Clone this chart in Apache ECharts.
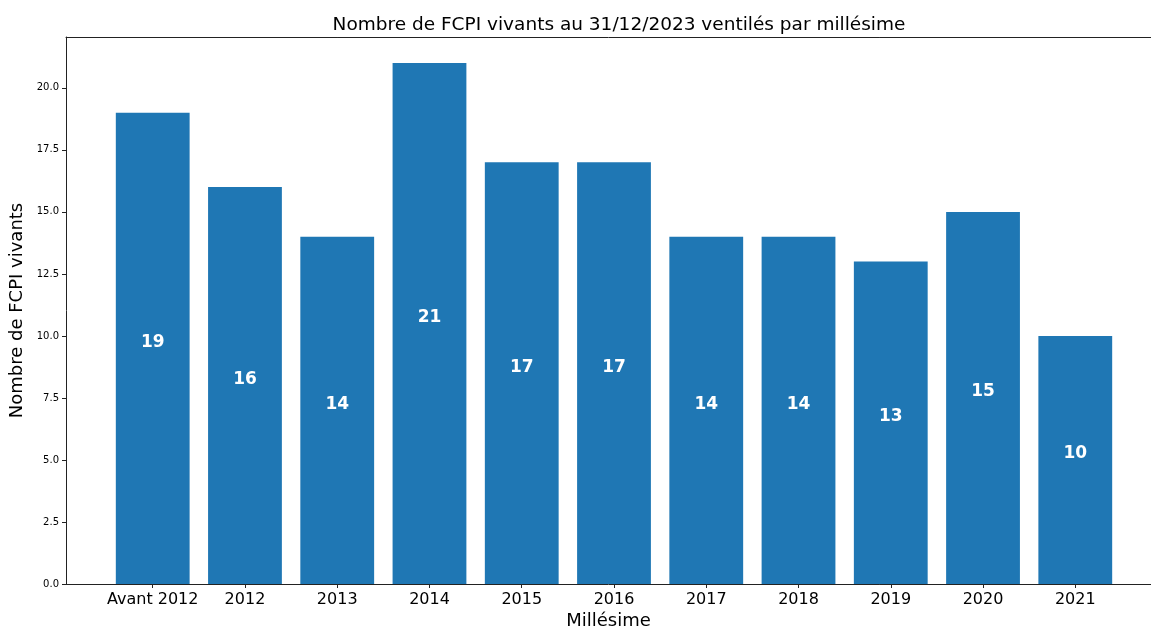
<!DOCTYPE html>
<html>
<head>
<meta charset="utf-8">
<script src="https://cdn.jsdelivr.net/npm/echarts@6/dist/echarts.min.js"></script>
<style>
  html, body { margin: 0; padding: 0; background: #fff; }
  #chart { width: 1151px; height: 628px; }
</style>
</head>
<body>
<div id="chart"></div>
<script>
    // données
    var millesimes = ['Avant 2012', '2012', '2013', '2014', '2015', '2016', '2017', '2018', '2019', '2020', '2021'];
    var nbFcpi = [19, 16, 14, 21, 17, 17, 14, 14, 13, 15, 10];
    var yTicks = [0, 2.5, 5, 7.5, 10, 12.5, 15, 17.5, 20];
    var yMax = 22.05;

    var chart = echarts.init(document.getElementById('chart'));

    // repère façon matplotlib : xlim = [-0.94, 10.94], axe complet de 66 à 1162 px
    var axLeft = 66, axWidth = 1096, xLo = -0.94, xHi = 10.94;
    var band = axWidth / (xHi - xLo);
    var barsLeft = axLeft + (-0.5 - xLo) * band;
    var font = 'DejaVu Sans';

    var option = {
        backgroundColor: '#fff',
        title: {
            text: 'Nombre de FCPI vivants au 31/12/2023 ventilés par millésime',
            left: axLeft + axWidth / 2,
            textAlign: 'center',
            top: 11,
            textStyle: { fontFamily: font, fontSize: 18.5, fontWeight: 'normal', color: '#000' }
        },
        grid: [
            { left: axLeft, right: 0, top: 37, bottom: 44, outerBoundsMode: 'none', containLabel: false },
            { left: barsLeft, width: band * millesimes.length, top: 37, bottom: 44, outerBoundsMode: 'none', containLabel: false }
        ],
        xAxis: [
            {   // cadre bas
                gridIndex: 0, type: 'value', min: 0, max: 1, position: 'bottom',
                axisLine: { show: true, lineStyle: { color: '#222', width: 1 } },
                axisTick: { show: false }, axisLabel: { show: false }, splitLine: { show: false },
                name: 'Millésime', nameLocation: 'middle', nameGap: 28,
                nameTextStyle: { fontFamily: font, fontSize: 18, color: '#000' }
            },
            {   // cadre haut
                gridIndex: 0, type: 'value', min: 0, max: 1, position: 'top',
                axisLine: { show: true, lineStyle: { color: '#222', width: 1 } },
                axisTick: { show: false }, axisLabel: { show: false }, splitLine: { show: false }
            },
            {
                gridIndex: 1, type: 'category', data: millesimes,
                axisLine: { show: false },
                axisTick: { show: true, alignWithLabel: true, length: 4, lineStyle: { color: '#222' } },
                axisLabel: { fontFamily: font, fontSize: 16, color: '#000', margin: 8, interval: 0 },
                splitLine: { show: false }
            }
        ],
        yAxis: [
            {
                gridIndex: 0, type: 'value', min: 0, max: yMax,
                axisLine: { show: true, lineStyle: { color: '#222', width: 1 } },
                axisTick: { show: true, length: 4, customValues: yTicks, lineStyle: { color: '#222' } },
                axisLabel: {
                    customValues: yTicks, fontFamily: font, fontSize: 10, color: '#000', margin: 7,
                    formatter: function (v) { return v.toFixed(1); }
                },
                splitLine: { show: false },
                name: 'Nombre de FCPI vivants', nameLocation: 'middle', nameGap: 37,
                nameTextStyle: { fontFamily: font, fontSize: 18, color: '#000' }
            },
            {
                gridIndex: 1, type: 'value', min: 0, max: yMax, show: false
            }
        ],
        series: [
            {
                type: 'bar',
                xAxisIndex: 2, yAxisIndex: 1,
                data: nbFcpi,
                barWidth: band * 0.8,
                itemStyle: { color: '#1f77b4' },
                label: {
                    show: true, position: 'inside', offset: [0, -6],
                    color: '#fff', fontFamily: font, fontSize: 17, fontWeight: 'bold'
                },
                silent: true
            }
        ],
        animation: false
    };

    chart.setOption(option);
</script>
</body>
</html>
